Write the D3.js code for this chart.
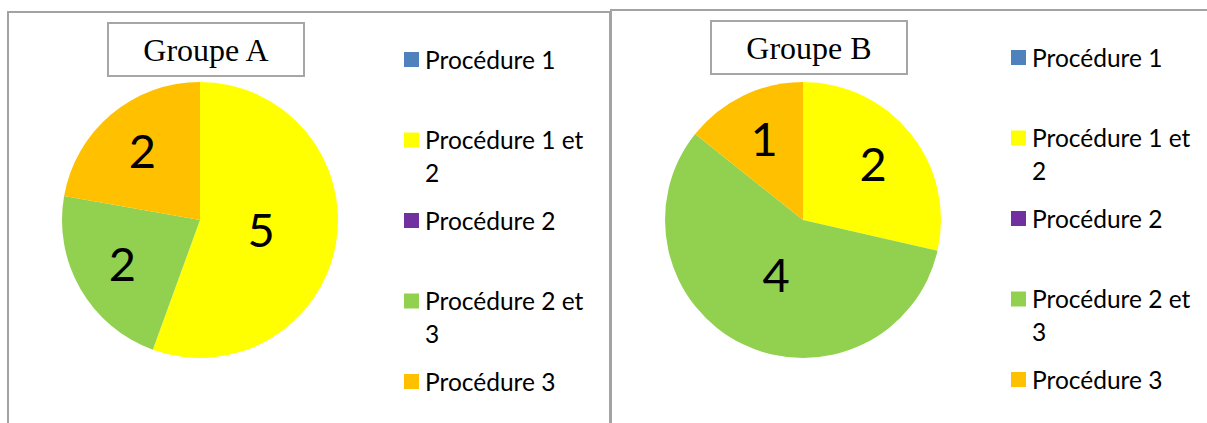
<!DOCTYPE html>
<html>
<head>
<meta charset="utf-8">
<script src="https://cdn.jsdelivr.net/npm/d3@7"></script>
<style>
  html, body { margin: 0; padding: 0; background: #fff; }
  svg { display: block; }
</style>
</head>
<body>
<div id="chart"></div>
<script>
// data
const categories = ["Procédure 1", "Procédure 1 et 2", "Procédure 2", "Procédure 2 et 3", "Procédure 3"];
const groupTitles = ["Groupe A", "Groupe B"];
const groupAValues = [0, 5, 0, 2, 2];
const groupBValues = [0, 2, 0, 4, 1];
const sliceColors = ["#4f81bd", "#ffff00", "#7030a0", "#92d050", "#ffc000"];

const width = 1207, height = 423;

const svg = d3.select("#chart").append("svg")
  .attr("width", width)
  .attr("height", height);

const color = d3.scaleOrdinal().domain(categories).range(sliceColors);

const panels = [
  { title: groupTitles[0], values: groupAValues, x: 8, y: 12, w: 602, legendX: 396 },
  { title: groupTitles[1], values: groupBValues, x: 611, y: 10, w: 610, legendX: 400 }
];

const radius = 138;
const pie = d3.pie().sort(null).value(d => d.value);
const arc = d3.arc().innerRadius(0).outerRadius(radius);

// legend rows
const legendY = d3.scalePoint().domain(categories).range([48, 370]);

panels.forEach(function(p) {
  const g = svg.append("g").attr("transform", "translate(" + p.x + "," + p.y + ")");

  g.append("rect")
    .attr("x", 0).attr("y", 0)
    .attr("width", p.w).attr("height", height + 20)
    .attr("fill", "none")
    .attr("stroke", "#a3a3a3")
    .attr("stroke-width", 2);

  // title box
  g.append("rect")
    .attr("x", 100).attr("y", 11)
    .attr("width", 196).attr("height", 53)
    .attr("fill", "#fff")
    .attr("stroke", "#a6a6a6")
    .attr("stroke-width", 2);

  g.append("text")
    .attr("x", 198).attr("y", 49)
    .attr("text-anchor", "middle")
    .style("font-family", "'Liberation Serif', 'Times New Roman', serif")
    .style("font-size", "32px")
    .attr("fill", "#000")
    .text(p.title);

  const data = categories.map((c, i) => ({ name: c, value: p.values[i] }));
  const arcs = pie(data);

  const pg = g.append("g").attr("transform", "translate(192," + (220 - p.y) + ")");

  pg.selectAll("path")
    .data(arcs.filter(d => d.data.value > 0))
    .enter()
    .append("path")
    .attr("d", arc)
    .attr("fill", d => color(d.data.name));

  pg.selectAll("text")
    .data(arcs.filter(d => d.data.value > 0))
    .enter()
    .append("text")
    .attr("transform", function(d) {
      const sweep = d.endAngle - d.startAngle;
      const r = sweep > Math.PI ? radius * 0.45 : radius * 0.65;
      const c = d3.arc().innerRadius(r).outerRadius(r).centroid(d);
      return "translate(" + c[0] + "," + c[1] + ")";
    })
    .attr("text-anchor", "middle")
    .attr("dy", "0.35em")
    .style("font-family", "Lato, 'Open Sans', sans-serif")
    .style("font-size", "47px")
    .attr("fill", "#000")
    .text(d => d.data.value);

  // legend
  const lg = g.append("g").attr("transform", "translate(" + p.legendX + ",0)");
  const item = lg.selectAll("g.item")
    .data(categories)
    .enter()
    .append("g")
    .attr("class", "item")
    .attr("transform", d => "translate(0," + legendY(d) + ")");

  item.append("rect")
    .attr("x", 0).attr("y", -8)
    .attr("width", 15).attr("height", 15)
    .attr("fill", d => color(d));

  item.append("text")
    .attr("x", 21)
    .attr("dy", "0.36em")
    .style("font-family", "Lato, 'Open Sans', sans-serif")
    .style("font-size", "24.5px")
    .attr("fill", "#000")
    .each(function(d) {
      // wrap long labels like Excel does
      const t = d3.select(this);
      const words = d.split(" ");
      let line = [];
      let tspan = t.append("tspan").attr("x", 21);
      words.forEach(function(w) {
        line.push(w);
        tspan.text(line.join(" "));
        if (tspan.node().getComputedTextLength() > 165 && line.length > 1) {
          line.pop();
          tspan.text(line.join(" "));
          line = [w];
          tspan = t.append("tspan").attr("x", 21).attr("dy", "33px").text(w);
        }
      });
    });
});
</script>
</body>
</html>
